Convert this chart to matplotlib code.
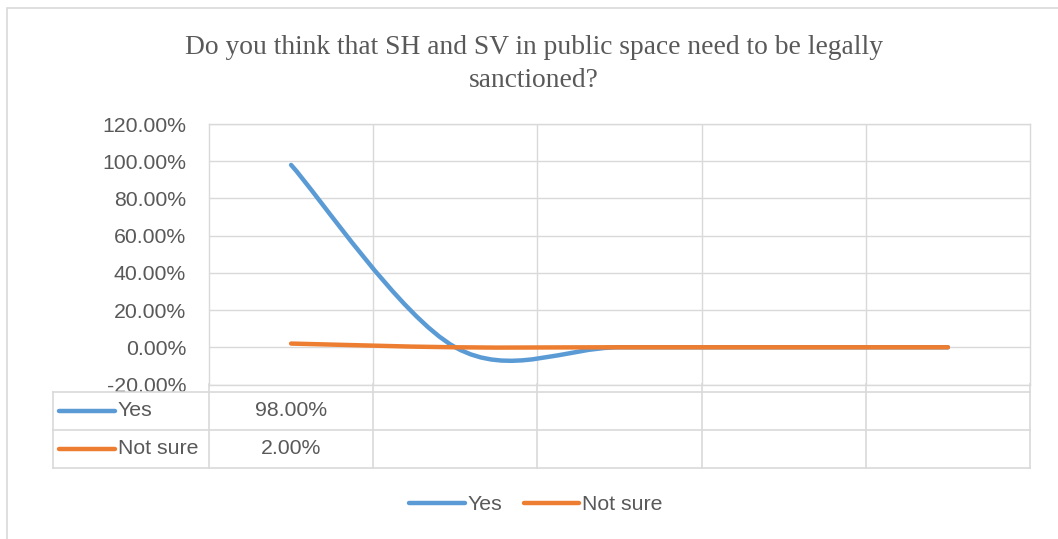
import numpy as np
import matplotlib.pyplot as plt
from matplotlib.path import Path
from matplotlib.patches import PathPatch, Rectangle
from matplotlib.lines import Line2D

# data
categories = [1, 2, 3, 4, 5]
yes_values = [0.98, 0, 0, 0, 0]
notsure_values = [0.02, 0, 0, 0, 0]
series_names = ["Yes", "Not sure"]
table_labels = ["98.00%", "2.00%"]
title = "Do you think that SH and SV in public space need to be legally\nsanctioned?"

BLUE = "#5B9BD5"
ORANGE = "#ED7D31"
GRID = "#D9D9D9"
TXT = "#595959"
FS = 15.3

W, H = 1058, 539
fig = plt.figure(figsize=(W / 100, H / 100), dpi=100)


def px_box(x0, y0, x1, y1):
    return [x0 / W, 1 - y1 / H, (x1 - x0) / W, (y1 - y0) / H]


def smooth_path(xs, ys):
    # excel-like smoothing: cubic bezier, catmull-rom control points
    pts = np.column_stack([xs, ys]).astype(float)
    n = len(pts)
    verts = [pts[0]]
    codes = [Path.MOVETO]
    for i in range(n - 1):
        p0 = pts[max(i - 1, 0)]
        p1 = pts[i]
        p2 = pts[i + 1]
        p3 = pts[min(i + 2, n - 1)]
        c1 = p1 + (p2 - p0) / 6
        c2 = p2 - (p3 - p1) / 6
        verts += [c1, c2, p2]
        codes += [Path.CURVE4] * 3
    return Path(verts, codes)


# outer chart border
fig.patches.append(Rectangle((7 / W, -0.1), 1.2, 1 - 8 / H + 0.1, transform=fig.transFigure,
                             fill=False, edgecolor=GRID, linewidth=1.2))

left, right, top, bottom = 209, 1030, 124, 384.5
ax = fig.add_axes(px_box(left, top, right, bottom))
ax.set_xlim(0.5, 5.5)
ax.set_ylim(-0.2, 1.2)
ax.set_yticks(np.arange(-0.2, 1.21, 0.2))
ax.set_yticklabels([f"{v * 100:.2f}%" for v in np.arange(-0.2, 1.21, 0.2)])
ax.set_xticks([1.5, 2.5, 3.5, 4.5])
ax.set_xticklabels([])
ax.grid(True, color=GRID, linewidth=1.0)
ax.tick_params(length=0, labelsize=FS, labelcolor=TXT, pad=16.5)
for lbl in ax.get_yticklabels():
    lbl.set_fontfamily("Liberation Sans")
for s in ax.spines.values():
    s.set_color(GRID)
    s.set_linewidth(1.0)

for vals, col in [(yes_values, BLUE), (notsure_values, ORANGE)]:
    ax.add_patch(PathPatch(smooth_path(categories, vals), fill=False, edgecolor=col,
                           linewidth=3.2, capstyle="round", zorder=3))

# data table
tx0 = 53
tab_top, row_mid, tab_bot = 392, 430, 468
unit = (right - left) / 5.0
tax = fig.add_axes(px_box(tx0, bottom, right, tab_bot))
xl = 0.5 - (left - tx0) / unit
tax.set_xlim(xl, 5.5)
tax.set_ylim(tab_bot, bottom)
tax.axis("off")
tax.add_patch(Rectangle((xl, tab_top), 5.5 - xl, tab_bot - tab_top, facecolor="white",
                        edgecolor="none", zorder=0))
for y in [tab_top, row_mid, tab_bot]:
    tax.plot([xl, 5.5], [y, y], color=GRID, linewidth=1.2, clip_on=False)
tax.plot([xl, xl], [tab_top, tab_bot], color=GRID, linewidth=1.2, clip_on=False)
for xv in [0.5, 1.5, 2.5, 3.5, 4.5, 5.5]:
    tax.plot([xv, xv], [bottom, tab_bot], color=GRID, linewidth=1.2, clip_on=False)

row_y = [(tab_top + row_mid) / 2, (row_mid + tab_bot) / 2]
key_x0 = xl + 6 / unit
key_x1 = xl + 62 / unit
for name, col, lab, yy in zip(series_names, [BLUE, ORANGE], table_labels, row_y):
    tax.plot([key_x0, key_x1], [yy, yy], color=col, linewidth=3.2, solid_capstyle="round")
    tax.text(key_x1 + 3 / unit, yy, name, ha="left", va="center", fontsize=FS,
             color=TXT, family="Liberation Sans")
    tax.text(categories[0], yy, lab, ha="center", va="center", fontsize=FS,
             color=TXT, family="Liberation Sans")

# title
fig.text(534 / W, 1 - 64 / H, title, ha="center", va="center", fontsize=19.8,
         color=TXT, family="Liberation Serif", linespacing=1.38)

# legend
handles = [Line2D([], [], color=BLUE, linewidth=3.2, solid_capstyle="round"),
           Line2D([], [], color=ORANGE, linewidth=3.2, solid_capstyle="round")]
leg = fig.legend(handles, series_names, loc="center", bbox_to_anchor=(536 / W, 1 - 505 / H),
                 ncol=2, frameon=False, handlelength=2.6, handletextpad=0.15, columnspacing=1.0,
                 prop={"family": "Liberation Sans", "size": FS})
for t in leg.get_texts():
    t.set_color(TXT)

fig.savefig("out.png", dpi=100)
